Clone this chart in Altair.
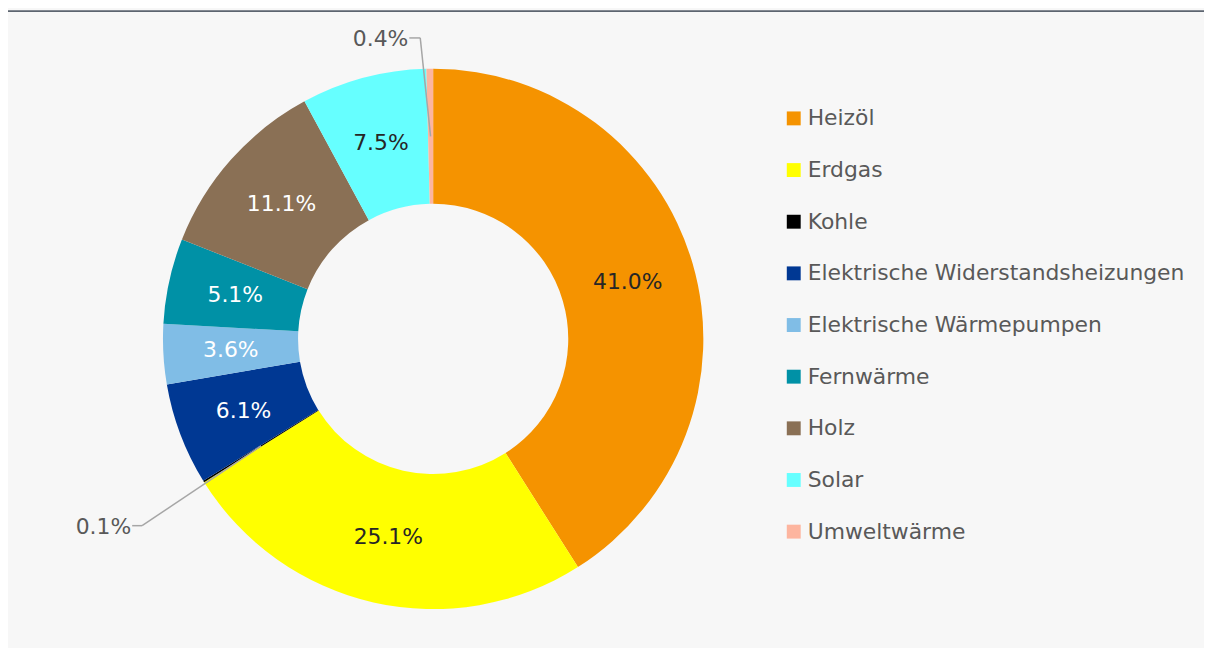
import math
import altair as alt
import pandas as pd

categories = [
    "Heizöl", "Erdgas", "Kohle", "Elektrische Widerstandsheizungen",
    "Elektrische Wärmepumpen", "Fernwärme", "Holz", "Solar", "Umweltwärme",
]
values = [41.0, 25.1, 0.1, 6.1, 3.6, 5.1, 11.1, 7.5, 0.4]
colors = ["#F59300", "#FFFF00", "#000000", "#003893", "#80BDE6",
          "#0091A6", "#8A7055", "#66FFFF", "#FDB59F"]
label_colors = ["#262626", "#262626", "#262626", "#FFFFFF", "#FFFFFF",
                "#FFFFFF", "#FFFFFF", "#262626", "#262626"]
outside = ["Kohle", "Umweltwärme"]

# layout
W, H = 1204, 640
CX, CY = 428, 331
R_OUT, R_IN = 272, 136
R_MID = (R_OUT + R_IN) / 2
FONT = "DejaVu Sans"
FS = 22

df = pd.DataFrame({
    "cat": categories,
    "value": values,
    "idx": list(range(len(categories))),
    "tcolor": label_colors,
})
df["label"] = [("" if c in outside else f"{v:.1f}%") for c, v in zip(categories, values)]

# leader lines for the small slices (anchor from data, elbow by layout)
total = sum(values)
cum = 0.0
anchors = {}
for c, v in zip(categories, values):
    mid = (cum + v / 2) / total * 2 * math.pi
    anchors[c] = (CX + R_MID * math.sin(mid), CY - R_MID * math.cos(mid))
    cum += v
elbows = {"Umweltwärme": (415, 28, 404), "Kohle": (135, 519, 125)}
seg_rows, lab_rows = [], []
for c in outside:
    ax_, ay_ = anchors[c]
    ex, ey, hx = elbows[c]
    seg_rows.append({"x": ax_, "y": ay_, "x2": ex, "y2": ey})
    seg_rows.append({"x": ex, "y": ey, "x2": hx, "y2": ey})
    v = values[categories.index(c)]
    lab_rows.append({"x": hx - 1, "y": ey + 1, "t": f"{v:.1f}%"})
seg_df = pd.DataFrame(seg_rows)
lab_df = pd.DataFrame(lab_rows)

base = alt.Chart(df).encode(
    theta=alt.Theta("value:Q", stack=True),
    order=alt.Order("idx:Q"),
)

arcs = base.mark_arc(outerRadius=R_OUT, innerRadius=R_IN).encode(
    x=alt.value(CX), y=alt.value(CY),
    color=alt.Color(
        "cat:N",
        scale=alt.Scale(domain=categories, range=colors),
        sort=categories,
        legend=alt.Legend(
            title=None, orient="none", legendX=780, legendY=98,
            symbolType="square", symbolSize=196, symbolStrokeWidth=0,
            symbolOpacity=1,
            labelFont=FONT, labelFontSize=FS, labelColor="#595959",
            labelOffset=3, rowPadding=30, padding=0, labelLimit=500,
        ),
    ),
)

texts = base.mark_text(radius=R_MID, font=FONT, fontSize=FS, baseline="middle",
                       align="center").encode(
    x=alt.value(CX), y=alt.value(CY),
    detail="cat:N",
    text="label:N",
    color=alt.Color("tcolor:N", scale=None),
)

leaders = alt.Chart(seg_df).mark_rule(color="#A6A6A6", strokeWidth=1.5).encode(
    x=alt.X("x:Q", scale=None), y=alt.Y("y:Q", scale=None),
    x2="x2:Q", y2="y2:Q",
)

out_labels = alt.Chart(lab_df).mark_text(font=FONT, fontSize=FS, align="right",
                                         baseline="middle", color="#595959").encode(
    x=alt.X("x:Q", scale=None), y=alt.Y("y:Q", scale=None), text="t:N",
)

topline = alt.Chart(pd.DataFrame({"a": [0]})).mark_rule(
    color="#5D6570", strokeWidth=2).encode(
    x=alt.value(0), x2=alt.value(W), y=alt.value(1),
)

chart = alt.layer(arcs, texts, leaders, out_labels, topline).properties(
    width=W, height=H, autosize=alt.AutoSizeParams(type="none"), padding=0,
    background="#F7F7F7",
).configure_view(stroke=None)

chart.save("out.html", embed_options={"renderer": "svg", "actions": False})
